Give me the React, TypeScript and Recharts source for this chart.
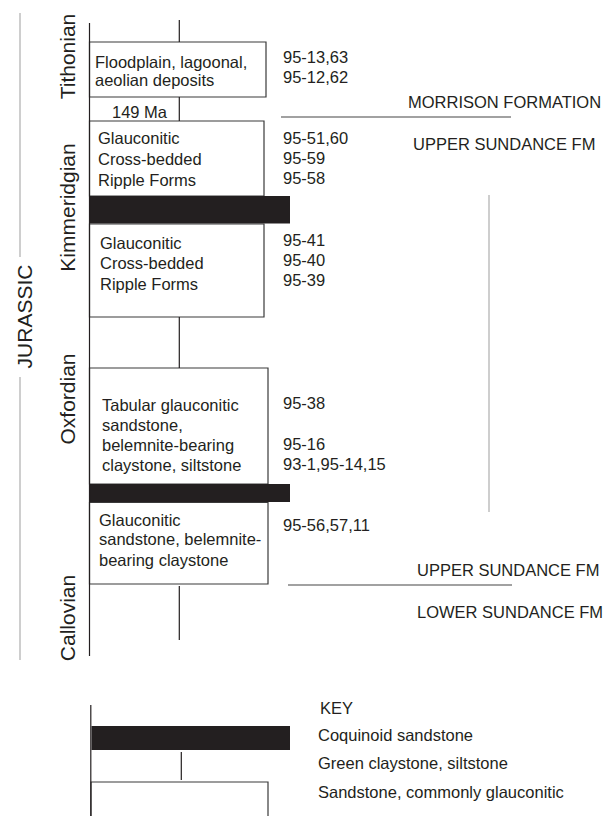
import React from 'react';
import { ComposedChart, XAxis, YAxis, Scatter, ReferenceArea, ReferenceLine } from 'recharts';

const W = 607;
const H = 816;
const INK = '#231f20';
const FONT = '"Liberation Sans", Arial, Helvetica, sans-serif';

// white boxes = sandstone
const sandstoneBeds = [
  { x1: 89.5, x2: 266, y1: 42, y2: 97 },
  { x1: 89.5, x2: 264, y1: 121, y2: 196 },
  { x1: 89.5, x2: 264, y1: 224, y2: 317 },
  { x1: 89.5, x2: 268, y1: 368, y2: 484 },
  { x1: 89.5, x2: 268, y1: 502.5, y2: 584 },
  { x1: 91, x2: 268, y1: 782, y2: 840 },
];

// black bars = coquinoid sandstone
const coquinaBeds = [
  { x1: 89.5, x2: 290, y1: 196, y2: 223.5 },
  { x1: 89.5, x2: 290, y1: 484, y2: 502 },
  { x1: 91.5, x2: 290, y1: 726, y2: 750 },
];

// thin centre line = claystone, siltstone
const claystoneBeds = [
  { x: 179.3, y1: 20, y2: 42 },
  { x: 179.3, y1: 97, y2: 121 },
  { x: 179.3, y1: 317, y2: 368 },
  { x: 179.3, y1: 586, y2: 640 },
  { x: 181.3, y1: 752, y2: 780 },
];

const columnEdges = [
  { x: 89.5, y1: 23, y2: 656 },
  { x: 90.8, y1: 705, y2: 820 },
];

const contacts = [
  { x1: 281, x2: 511, y: 117 },
  { x1: 288, x2: 512, y: 585 },
];

const greyRules = [
  { x1: 489, x2: 489, y1: 195, y2: 512 },
  { x1: 20, x2: 20, y1: 13, y2: 257 },
  { x1: 20, x2: 20, y1: 377, y2: 660 },
];

const bedLabels = [
  { x: 95, y: 62, text: 'Floodplain, lagoonal,' },
  { x: 95, y: 80.5, text: 'aeolian deposits' },
  { x: 112, y: 112, text: '149 Ma' },
  { x: 98, y: 138, text: 'Glauconitic' },
  { x: 98, y: 159, text: 'Cross-bedded' },
  { x: 98, y: 180, text: 'Ripple Forms' },
  { x: 100, y: 243, text: 'Glauconitic' },
  { x: 100, y: 263, text: 'Cross-bedded' },
  { x: 100, y: 284, text: 'Ripple Forms' },
  { x: 102, y: 405, text: 'Tabular glauconitic' },
  { x: 102, y: 425, text: 'sandstone,' },
  { x: 102, y: 445, text: 'belemnite-bearing' },
  { x: 102, y: 465, text: 'claystone, siltstone' },
  { x: 99, y: 520, text: 'Glauconitic' },
  { x: 99, y: 539.5, text: 'sandstone, belemnite-' },
  { x: 99, y: 560, text: 'bearing claystone' },
];

const sampleLabels = [
  { x: 283, y: 57, text: '95-13,63' },
  { x: 283, y: 77, text: '95-12,62' },
  { x: 283, y: 138, text: '95-51,60' },
  { x: 283, y: 158, text: '95-59' },
  { x: 283, y: 178, text: '95-58' },
  { x: 283, y: 240, text: '95-41' },
  { x: 283, y: 260, text: '95-40' },
  { x: 283, y: 280, text: '95-39' },
  { x: 283, y: 403, text: '95-38' },
  { x: 283, y: 444, text: '95-16' },
  { x: 283, y: 464, text: '93-1,95-14,15' },
  { x: 283, y: 525, text: '95-56,57,11' },
];

const formationLabels = [
  { x: 408, y: 102, text: 'MORRISON FORMATION' },
  { x: 413, y: 144, text: 'UPPER SUNDANCE FM' },
  { x: 417, y: 570, text: 'UPPER SUNDANCE FM' },
  { x: 417, y: 612, text: 'LOWER SUNDANCE FM' },
];

const keyLabels = [
  { x: 320, y: 708, text: 'KEY' },
  { x: 318, y: 735, text: 'Coquinoid sandstone' },
  { x: 318, y: 763, text: 'Green claystone, siltstone' },
  { x: 318, y: 792, text: 'Sandstone, commonly glauconitic' },
];

// vertical labels, x = baseline
const stageLabels = [
  { x: 75, y: 56.5, text: 'Tithonian' },
  { x: 75, y: 207.5, text: 'Kimmeridgian' },
  { x: 75, y: 399, text: 'Oxfordian' },
  { x: 75, y: 618, text: 'Callovian' },
  { x: 31.5, y: 316.5, text: 'JURASSIC' },
];

const flatText = (size: number) => (props: any) => {
  const { cx, cy, payload } = props;
  return (
    <text x={cx} y={cy} dy="0.35em" fontSize={size} fontFamily={FONT} fill={INK} textAnchor="start">
      {payload.text}
    </text>
  );
};

const upText = (props: any) => {
  const { cx, cy, payload } = props;
  return (
    <text
      x={cx}
      y={cy}
      fontSize={21}
      fontFamily={FONT}
      fill={INK}
      textAnchor="middle"
      transform={`rotate(-90, ${cx}, ${cy})`}
    >
      {payload.text}
    </text>
  );
};

export default function App() {
  return (
    <div style={{ position: 'absolute', left: 0, top: 0, width: W, height: H, background: '#fff' }}>
      <ComposedChart width={W} height={H} margin={{ top: 0, right: 0, bottom: 0, left: 0 }}>
        <XAxis type="number" dataKey="x" domain={[0, W]} allowDataOverflow hide />
        <YAxis type="number" dataKey="y" domain={[0, H]} reversed allowDataOverflow hide />

        {greyRules.map((r, i) => (
          <ReferenceLine
            key={`g-${i}`}
            segment={[{ x: r.x1, y: r.y1 }, { x: r.x2, y: r.y2 }]}
            stroke="#9d9d9d"
            strokeWidth={1}
            ifOverflow="visible"
          />
        ))}
        {columnEdges.map((r, i) => (
          <ReferenceLine
            key={`e-${i}`}
            segment={[{ x: r.x, y: r.y1 }, { x: r.x, y: r.y2 }]}
            stroke={INK}
            strokeWidth={1.2}
            ifOverflow="visible"
          />
        ))}
        {claystoneBeds.map((r, i) => (
          <ReferenceLine
            key={`c-${i}`}
            segment={[{ x: r.x, y: r.y1 }, { x: r.x, y: r.y2 }]}
            stroke={INK}
            strokeWidth={1.2}
            ifOverflow="visible"
          />
        ))}
        {contacts.map((r, i) => (
          <ReferenceLine
            key={`k-${i}`}
            segment={[{ x: r.x1, y: r.y }, { x: r.x2, y: r.y }]}
            stroke="#444"
            strokeWidth={1.2}
            ifOverflow="visible"
          />
        ))}
        {sandstoneBeds.map((b, i) => (
          <ReferenceArea
            key={`s-${i}`}
            x1={b.x1}
            x2={b.x2}
            y1={b.y1}
            y2={b.y2}
            fill="#fff"
            fillOpacity={1}
            stroke="#3a3a3a"
            strokeWidth={1.2}
            ifOverflow="visible"
          />
        ))}
        {coquinaBeds.map((b, i) => (
          <ReferenceArea
            key={`q-${i}`}
            x1={b.x1}
            x2={b.x2}
            y1={b.y1}
            y2={b.y2}
            fill={INK}
            fillOpacity={1}
            stroke="none"
            ifOverflow="visible"
          />
        ))}

        <Scatter data={bedLabels} shape={flatText(16.5)} isAnimationActive={false} />
        <Scatter data={sampleLabels} shape={flatText(16.5)} isAnimationActive={false} />
        <Scatter data={formationLabels} shape={flatText(16.5)} isAnimationActive={false} />
        <Scatter data={keyLabels} shape={flatText(16.5)} isAnimationActive={false} />
        <Scatter data={stageLabels} shape={upText} isAnimationActive={false} />
      </ComposedChart>
    </div>
  );
}
